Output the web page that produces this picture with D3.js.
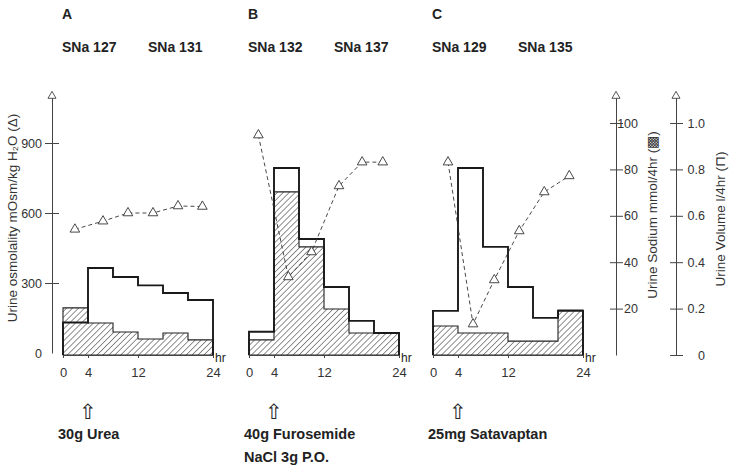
<!DOCTYPE html>
<html>
<head>
<meta charset="utf-8">
<style>
body { margin: 0; background: #fff; }
text { font-family: "Liberation Sans", Arial, sans-serif; fill: #222; }
.head { font-size: 14px; font-weight: bold; }
.note { font-size: 14.5px; font-weight: bold; }
.tick text { font-size: 12.5px; fill: #333; }
.tick line, .domain { stroke: #444; }
.axis-label { font-size: 13.5px; fill: #333; }
</style>
<script src="https://cdnjs.cloudflare.com/ajax/libs/d3/7.8.5/d3.min.js"></script>
</head>
<body>
<svg width="731" height="470"></svg>
<script>
// 4-hour collection bins
const binEdges = [0, 4, 8, 12, 16, 20, 24];

// urine sodium mmol/4hr (hatched)
const sodiumA = [20.3, 13.8, 9.9, 6.9, 9.5, 6.5];
const sodiumB = [6.5, 70.3, 46.6, 19.8, 9.5, 9.5];
const sodiumC = [12.5, 9.5, 9.5, 6.0, 6.0, 19.4];

// urine volume l/4hr (open)
const volumeA = [0.14, 0.375, 0.336, 0.30, 0.267, 0.237];
const volumeB = [0.10, 0.806, 0.50, 0.293, 0.147, 0.095];
const volumeC = [0.19, 0.806, 0.466, 0.293, 0.16, 0.19];

// urine osmolality mOsm/kg (triangles)
const osmHrA = [1.9, 6.4, 10.4, 14.4, 18.4, 22.3];
const osmA = [530, 565, 600, 600, 630, 628];
const osmHrB = [1.5, 6.3, 10, 14.4, 18.1, 21.4];
const osmB = [934, 326, 433, 716, 818, 818];
const osmHrC = [2.4, 6.4, 9.8, 13.8, 17.8, 21.8];
const osmC = [818, 124, 313, 523, 690, 759];

const panelNames = ['A', 'B', 'C'];
const serumNa = [['SNa 127', 'SNa 131'], ['SNa 132', 'SNa 137'], ['SNa 129', 'SNa 135']];
const treatments = [['30g Urea'], ['40g Furosemide', 'NaCl 3g P.O.'], ['25mg Satavaptan']];
const hourTicks = [0, 4, 12, 24];
const osmTicks = [0, 300, 600, 900];
const sodiumTicks = [20, 40, 60, 80, 100];
const volumeTicks = [0, 0.2, 0.4, 0.6, 0.8, 1.0];

const svg = d3.select('svg');

const panelX = [63, 249, 433];
const panelW = 150;
const base = 355;

const yOsm = d3.scaleLinear().domain([0, 1110]).range([353, 94]);
const ySod = d3.scaleLinear().domain([0, 113]).range([base, base - 113 * 2.32]);
const yVol = d3.scaleLinear().domain([0, 1.13]).range([base, base - 113 * 2.32]);

// hatch
const defs = svg.append('defs');
const pat = defs.append('pattern')
  .attr('id', 'hatch')
  .attr('patternUnits', 'userSpaceOnUse')
  .attr('width', 4.2).attr('height', 4.2)
  .attr('patternTransform', 'rotate(45)');
pat.append('rect').attr('width', 4.2).attr('height', 4.2).attr('fill', '#fff');
pat.append('line').attr('x1', 0).attr('y1', 0).attr('x2', 0).attr('y2', 4.2)
  .attr('stroke', '#222').attr('stroke-width', 1);

const stepPoints = vals => {
  const pts = [[0, 0]];
  vals.forEach((v, i) => { pts.push([binEdges[i], v]); pts.push([binEdges[i + 1], v]); });
  pts.push([24, 0]);
  return pts;
};

const panels = [
  { sod: sodiumA, vol: volumeA, hr: osmHrA, osm: osmA },
  { sod: sodiumB, vol: volumeB, hr: osmHrB, osm: osmB },
  { sod: sodiumC, vol: volumeC, hr: osmHrC, osm: osmC }
];

panels.forEach((p, i) => {
  const x = d3.scaleLinear().domain([0, 24]).range([panelX[i], panelX[i] + panelW]);
  const g = svg.append('g');

  // headers
  g.append('text').attr('class', 'head').attr('x', panelX[i] - 1).attr('y', 19).text(panelNames[i]);
  g.append('text').attr('class', 'head').attr('x', panelX[i] - 1).attr('y', 52).text(serumNa[i][0]);
  g.append('text').attr('class', 'head').attr('x', panelX[i] + 85).attr('y', 52).text(serumNa[i][1]);

  // hatched sodium
  const sodArea = d3.area().x(d => x(d[0])).y0(base).y1(d => ySod(d[1]));
  g.append('path')
    .attr('d', sodArea(stepPoints(p.sod)))
    .attr('fill', 'url(#hatch)')
    .attr('stroke', '#222')
    .attr('stroke-width', 1.1);

  // open volume outline
  const volLine = d3.line().x(d => x(d[0])).y(d => yVol(d[1]));
  g.append('path')
    .attr('d', volLine(stepPoints(p.vol)))
    .attr('fill', 'none')
    .attr('stroke', '#1a1a1a')
    .attr('stroke-width', 1.9);

  // x axis
  const xAxis = d3.axisBottom(x).tickValues(hourTicks).tickSize(3).tickSizeOuter(0).tickPadding(10);
  const xg = g.append('g').attr('transform', `translate(0,${base})`).call(xAxis);
  xg.selectAll('.tick text').style('font-size', '13px');
  g.append('text').attr('x', x(24) + 2).attr('y', base + 7).style('font-size', '12px').attr('fill', '#333').text('hr');

  // osmolality
  const osmData = p.hr.map((h, k) => [h, p.osm[k]]);
  g.append('path')
    .attr('d', d3.line().x(d => x(d[0])).y(d => yOsm(d[1]))(osmData))
    .attr('fill', 'none')
    .attr('stroke', '#333')
    .attr('stroke-width', 0.9)
    .attr('stroke-dasharray', '4,3');
  g.selectAll('.tri').data(osmData).enter().append('path')
    .attr('class', 'tri')
    .attr('d', d3.symbol().type(d3.symbolTriangle).size(40))
    .attr('transform', d => `translate(${x(d[0])},${yOsm(d[1])})`)
    .attr('fill', '#fff')
    .attr('stroke', '#333')
    .attr('stroke-width', 0.9);

  // treatment note
  g.append('text').attr('x', x(4)).attr('y', 419).attr('text-anchor', 'middle')
    .style('font-size', '21px').attr('fill', '#333').text('\u21E7');
  treatments[i].forEach((t, k) => {
    g.append('text').attr('class', 'note').attr('x', panelX[i] - 5).attr('y', 439 + k * 23).text(t);
  });
});

// axis top arrows
const arrowHead = (cx, cy) => svg.append('path')
  .attr('d', d3.symbol().type(d3.symbolTriangle).size(28)())
  .attr('transform', `translate(${cx},${cy})`)
  .attr('fill', '#fff').attr('stroke', '#444').attr('stroke-width', 0.9);

// left osmolality axis
const yAxisL = d3.axisLeft(yOsm).tickValues(osmTicks).tickSize(7).tickPadding(3).tickSizeOuter(0);
const lg = svg.append('g').attr('transform', 'translate(52,0)').call(yAxisL);
lg.selectAll('.tick line').attr('x1', 7);
lg.selectAll('.tick').filter(d => d === 0).select('line').remove();
arrowHead(52, 96);
svg.append('text').attr('class', 'axis-label')
  .attr('transform', 'translate(17,218) rotate(-90)')
  .attr('text-anchor', 'middle')
  .text('Urine osmolality mOsm/kg H\u2082O (\u0394)');

// right sodium axis
const yAxisS = d3.axisRight(ySod).tickValues(sodiumTicks).tickSize(7).tickSizeOuter(0);
const sg = svg.append('g').attr('transform', 'translate(616,0)').call(yAxisS);
sg.selectAll('.tick line').attr('x1', -6);
sg.selectAll('.tick text').attr('x', 22).attr('text-anchor', 'end');
arrowHead(616, 96);
svg.append('text').attr('class', 'axis-label')
  .attr('transform', 'translate(657,215) rotate(-90)')
  .attr('text-anchor', 'middle')
  .text('Urine Sodium mmol/4hr (\u25A9)');

// right volume axis
const yAxisV = d3.axisRight(yVol).tickValues(volumeTicks).tickSize(7).tickSizeOuter(0)
  .tickFormat(d => d === 0 ? '0' : d3.format('.1f')(d));
const vg = svg.append('g').attr('transform', 'translate(676,0)').call(yAxisV);
vg.selectAll('.tick line').attr('x1', -6);
vg.selectAll('.tick text').attr('x', 29).attr('text-anchor', 'end');
arrowHead(676, 96);
svg.append('text').attr('class', 'axis-label')
  .attr('transform', 'translate(725,219) rotate(-90)')
  .attr('text-anchor', 'middle')
  .text('Urine Volume l/4hr (\u2293)');
</script>
</body>
</html>
